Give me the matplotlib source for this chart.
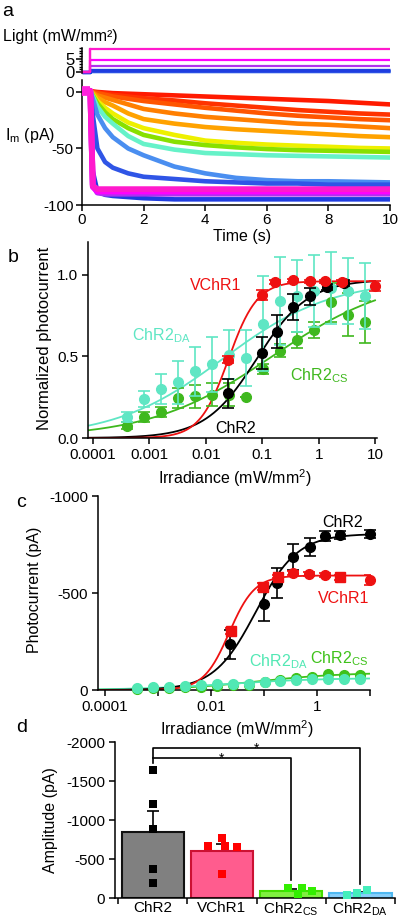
import numpy as np
import matplotlib
matplotlib.use('Agg')
import matplotlib.pyplot as plt
from matplotlib.ticker import FixedLocator, NullFormatter, FixedFormatter

plt.rcParams['font.family'] = ['Liberation Sans', 'DejaVu Sans']
plt.rcParams['mathtext.fontset'] = 'custom'
plt.rcParams['mathtext.rm'] = 'Liberation Sans'
plt.rcParams['mathtext.it'] = 'Liberation Sans:italic'
plt.rcParams['mathtext.default'] = 'regular'
plt.rcParams['axes.unicode_minus'] = False
plt.rcParams['axes.linewidth'] = 1.1
plt.rcParams['xtick.major.width'] = 1.1
plt.rcParams['ytick.major.width'] = 1.1
plt.rcParams['xtick.labelsize'] = 11
plt.rcParams['ytick.labelsize'] = 11

# ---------------- data: panel a ----------------
t_pts = [0, 0.27, 0.35, 0.5, 0.75, 1, 1.5, 2, 3, 4, 5, 6, 7, 8, 9, 10]
trace_colors = ['#ff1a00', '#ff3300', '#ff5500', '#ff7f00', '#ffa200', '#eef000',
                '#88e000', '#66f2c8', '#4a8ef0', '#2f55e6', '#1f3de0', '#b030f0',
                '#ff00ff', '#ff1acc']
traces = [
    [1, 1, 0.5, 0, -0.5, -1, -1.5, -2, -3, -4, -5, -6, -7, -8, -9.5, -11],
    [1, 1, 0, -0.5, -1.5, -2.5, -4, -5.5, -7.5, -10, -12, -14, -16, -17.5, -19, -20],
    [1, 1, 0, -1, -2.5, -4, -6, -8, -11, -14, -16.5, -19, -21, -22.5, -24, -25],
    [1, 1, -0.5, -3, -5, -7, -11, -15, -19, -22, -24, -26, -28, -29, -30.5, -32],
    [1, 1, -1, -5, -9, -12, -19, -24, -28, -31, -33, -34.5, -36, -37.5, -39, -40],
    [1, 1, -2, -8, -14, -19, -27, -32, -38, -43, -45, -46.5, -47.5, -48.5, -49.5, -50],
    [1, 1, -3, -10, -18, -24, -32, -38, -44, -47, -49, -50.5, -51.5, -52, -52.5, -53],
    [1, 1, -4, -13, -22, -28, -39, -46, -51, -54, -55, -56, -56.5, -57, -57.5, -58],
    [1, 1, -6, -20, -32, -40, -50, -56, -66, -72, -76, -78, -79, -79, -79.5, -80],
    [1, 1, -20, -50, -62, -67, -72, -75, -77, -79, -80, -81, -81, -82, -82, -82],
    [1, 1, -70, -88, -91, -92, -93, -94, -95, -95, -95, -95, -95, -95, -95, -95],
    [1, 1, -82, -89, -90, -90, -90, -90, -90, -90, -90, -90, -90, -90, -90, -90],
    [1, 1, -84, -88, -88, -88, -88, -88, -88, -88, -88, -88, -88, -88, -88, -88],
    [1, 1, -83, -86, -86, -86, -86, -86, -86, -86, -86, -86, -86, -86, -86, -86],
]
light_levels = [0.003, 0.006, 0.012, 0.025, 0.05, 0.1, 0.15, 0.2, 0.35, 0.6, 0.9, 2.2, 4.4, 8.8]
light_onset = 0.27

# ---------------- data: panel b ----------------
irr = [0.0004, 0.0008, 0.0016, 0.0032, 0.0064, 0.0128, 0.0256, 0.0512,
       0.1024, 0.2048, 0.4096, 0.8192, 1.6384, 3.2768, 6.5536]
da_b = [0.13, 0.24, 0.30, 0.34, 0.41, 0.45, 0.51, 0.49, 0.70, 0.84, 0.87, 0.90, 0.92, 0.90, 0.87]
da_b_err = [0.03, 0.05, 0.09, 0.13, 0.15, 0.17, 0.15, 0.17, 0.29, 0.27, 0.22, 0.22, 0.22, 0.20, 0.20]
cs_b = [0.076, 0.13, 0.16, 0.245, 0.255, 0.265, 0.265, 0.25, 0.42, 0.535, 0.60, 0.66, 0.83, 0.755, 0.71]
cs_b_err = [0.02, 0.03, 0.03, 0.06, 0.07, 0.07, 0.07, 0.0, 0.03, 0.04, 0.05, 0.05, 0.12, 0.13, 0.13]
chr2_b_x = [0.025, 0.1, 0.18, 0.35, 0.7, 1.4, 2.8]
chr2_b = [0.274, 0.52, 0.652, 0.80, 0.867, 0.925, 0.95]
chr2_b_err = [0.09, 0.10, 0.10, 0.08, 0.05, 0.02, 0.02]
vchr1_b_x = [0.025, 0.1, 0.17, 0.35, 0.7, 1.3, 2.6, 10]
vchr1_b = [0.48, 0.877, 0.955, 0.965, 0.96, 0.96, 0.955, 0.93]
vchr1_b_err = [0.02, 0.03, 0.015, 0.01, 0.01, 0.01, 0.015, 0.03]
# Hill fit parameters (top, EC50, slope)
fit_b = {'ChR2': (0.97, 0.08, 0.95), 'VChR1': (0.96, 0.025, 1.7),
         'DA': (0.97, 0.02, 0.45), 'CS': (1.0, 0.15, 0.4)}

# ---------------- data: panel c ----------------
chr2_c_x = [0.023, 0.098, 0.175, 0.35, 0.74, 1.41, 2.7, 10]
chr2_c = [-236, -441, -550, -684, -738, -795, -800, -805]
chr2_c_err = [74, 87, 77, 68, 47, 25, 20, 20]
vchr1_c_x = [0.0234, 0.094, 0.18, 0.35, 0.72, 1.41, 2.7, 10]
vchr1_c = [-304, -533, -585, -603, -598, -593, -581, -568]
vchr1_c_err = [15, 20, 10, 8, 8, 8, 12, 25]
vchr1_c_marker = ['s', 's', 's', 'o', 'o', 'o', 's', 'o']
da_c = [-9, -14, -17, -22, -26, -31, -31, -31, -41, -48, -51, -55, -55, -55, -55]
cs_c = [-5, -8, -10, -14, -18, -22, -25, -28, -40, -50, -60, -68, -85, -77, -77]
fit_c = {'ChR2': (-805, 0.07, 1.1), 'VChR1': (-590, 0.022, 1.8),
         'DA': (-62, 0.02, 0.5), 'CS': (-90, 0.08, 0.55)}

# ---------------- data: panel d ----------------
groups = ['ChR2', 'VChR1', 'ChR2$_{CS}$', 'ChR2$_{DA}$']
means_d = [-840, -605, -93, -58]
sem_d = [270, 90, 20, 20]
pts_d = [[-1640, -1200, -880, -368, -188],
         [-769, -664, -670, -660, -306],
         [-124, -122, -93, -55],
         [-102, -68, -38]]
jitter_d = [[0, 0, 0, 0, 0],
            [0, -0.2, 0.05, 0.22, 0],
            [-0.05, 0.15, 0.3, 0.1],
            [0.1, -0.05, -0.2]]
sig_top = -1925
sig_low = -1795

W, H = 400, 922
fig = plt.figure(figsize=(W / 100, H / 100), dpi=100)


def add_ax(l, t, r, b):
    return fig.add_axes([l / W, 1 - b / H, (r - l) / W, (b - t) / H])


def ftext(x, y, s, **kw):
    return fig.text(x / W, 1 - y / H, s, **kw)


def hill(x, top, k, n):
    x = np.asarray(x, float)
    return top * x ** n / (x ** n + k ** n)


RED = '#ee1111'
CYAN = '#5fe6c4'
GREEN = '#3fb81e'
CYAN_C = '#52e8b4'
GREEN_C = '#3ec21a'

# ================= panel a: light =================
axl = add_ax(82, 48, 390, 73.5)
for i in range(len(light_levels)):
    lv = light_levels[i]
    lw = 1.4 if i < 8 else (2.4 if i < 11 else 1.6)
    axl.plot([0, light_onset, light_onset, 10], [0, 0, lv, lv],
             color=trace_colors[i], lw=lw, solid_capstyle='butt', clip_on=False)
axl.plot([0, light_onset, light_onset], [0, 0, light_levels[-1]],
         color=trace_colors[-1], lw=1.6, clip_on=False)
axl.set_xlim(0, 10)
axl.set_ylim(-0.5, 9)
for s in ['top', 'right', 'bottom']:
    axl.spines[s].set_visible(False)
axl.set_xticks([])
axl.yaxis.set_major_locator(FixedLocator([0, 5]))
axl.yaxis.set_minor_locator(FixedLocator([1, 2, 3, 4, 6, 7, 8, 9]))
axl.tick_params(axis='y', which='major', length=4.5, pad=1, labelsize=12)
axl.tick_params(axis='y', which='minor', length=2.5, width=1.0)
axl.patch.set_alpha(0)

# ================= panel a: currents =================
axa = add_ax(82, 80, 390, 205)
for i in range(len(traces)):
    lw = 3.3 if i < 11 else 4.2
    axa.plot(t_pts, traces[i], color=trace_colors[i], lw=lw,
             solid_joinstyle='round', zorder=2 + i)
axa.plot(t_pts[:2], traces[-1][:2], color='#ff22dd', lw=7, zorder=30,
         solid_capstyle='butt')
axa.set_xlim(0, 10)
axa.set_ylim(-100, 10.6)
for s in ['top', 'right']:
    axa.spines[s].set_visible(False)
axa.set_xticks([0, 2, 4, 6, 8, 10])
axa.set_yticks([0, -50, -100])
axa.tick_params(length=4, pad=2)
axa.patch.set_alpha(0)

ftext(3, 36, 'Light (mW/mm²)', ha='left', va='center', fontsize=11.5)
ftext(5, 135, 'I$_{m}$ (pA)', ha='left', va='center', fontsize=11.5)
ftext(242, 237, 'Time (s)', ha='center', va='center', fontsize=11.5)

# ================= panel b =================
axb = add_ax(88, 242, 377, 438)
axb.set_xscale('log')
xx = np.logspace(-4.09, 1, 400)
axb.plot(xx, hill(xx, *fit_b['CS']), color=GREEN, lw=1.3, zorder=2)
axb.plot(xx, hill(xx, *fit_b['DA']), color=CYAN, lw=1.3, zorder=2)
axb.plot(xx, hill(xx, *fit_b['ChR2']), color='k', lw=1.3, zorder=2)
axb.plot(xx, hill(xx, *fit_b['VChR1']), color=RED, lw=1.3, zorder=2)
ekw = dict(fmt='o', ms=7, capsize=4.5, elinewidth=1.2, capthick=1.2, clip_on=False)
axb.errorbar(irr, cs_b, yerr=cs_b_err, color=GREEN, zorder=3, **ekw)
axb.errorbar(irr, da_b, yerr=da_b_err, color=CYAN, zorder=4, **ekw)
axb.errorbar(chr2_b_x, chr2_b, yerr=chr2_b_err, color='k', zorder=5, **ekw)
axb.errorbar(vchr1_b_x, vchr1_b, yerr=vchr1_b_err, color=RED, zorder=6, **ekw)
axb.set_xlim(10 ** -4.09, 10 ** 1.035)
axb.set_ylim(0, 1.2)
for s in ['top', 'right']:
    axb.spines[s].set_visible(False)
axb.xaxis.set_major_locator(FixedLocator([1e-4, 1e-3, 1e-2, 1e-1, 1, 10]))
axb.xaxis.set_major_formatter(FixedFormatter(['0.0001', '0.001', '0.01', '0.1', '1', '10']))
axb.xaxis.set_minor_locator(FixedLocator([]))
axb.set_yticks([0, 0.5, 1.0])
axb.set_yticklabels(['0.0', '0.5', '1.0'])
axb.tick_params(length=4, pad=3)
axb.patch.set_alpha(0)

ftext(45, 338, 'Normalized photocurrent', rotation=90, ha='center', va='center', fontsize=12)
ftext(235, 478, 'Irradiance (mW/mm$^{2}$)', ha='center', va='center', fontsize=11.5)
ftext(190, 290, 'VChR1', color=RED, ha='left', va='baseline', fontsize=11.5)
ftext(132, 340, 'ChR2$_{DA}$', color=CYAN, ha='left', va='baseline', fontsize=11.5)
ftext(290, 380, 'ChR2$_{CS}$', color=GREEN, ha='left', va='baseline', fontsize=11.5)
ftext(215, 433, 'ChR2', color='k', ha='left', va='baseline', fontsize=11.5)

# ================= panel c =================
axc = add_ax(98, 496, 370, 690)
axc.set_xscale('log')
xc = np.logspace(-4.132, 1, 400)
axc.plot(xc, hill(xc, *fit_c['CS']), color=GREEN_C, lw=1.3, zorder=2)
axc.plot(xc, hill(xc, *fit_c['DA']), color=CYAN_C, lw=1.3, zorder=2)
axc.plot(xc, hill(xc, *fit_c['ChR2']), color='k', lw=1.3, zorder=2)
axc.plot(xc, hill(xc, *fit_c['VChR1']), color=RED, lw=1.3, zorder=2)
axc.plot(irr, cs_c, 'o', color=GREEN_C, ms=7, zorder=3, clip_on=False)
axc.plot(irr, da_c, 'o', color=CYAN_C, ms=7, zorder=4, clip_on=False)
axc.errorbar(chr2_c_x, chr2_c, yerr=chr2_c_err, color='k', zorder=5, **ekw)
axc.errorbar(vchr1_c_x, vchr1_c, yerr=vchr1_c_err, color=RED, fmt='none',
             capsize=4.5, elinewidth=1.2, capthick=1.2, zorder=6)
for i in range(len(vchr1_c_x)):
    axc.plot([vchr1_c_x[i]], [vchr1_c[i]], marker=vchr1_c_marker[i], color=RED,
             ms=7, zorder=7, clip_on=False)
axc.set_xlim(10 ** -4.132, 10)
axc.set_ylim(0, -1000)
for s in ['top', 'right']:
    axc.spines[s].set_visible(False)
axc.xaxis.set_major_locator(FixedLocator([1e-4, 1e-3, 1e-2, 1e-1, 1, 10]))
axc.xaxis.set_major_formatter(FixedFormatter(['0.0001', '', '0.01', '', '1', '']))
axc.xaxis.set_minor_locator(FixedLocator([]))
axc.set_yticks([0, -500, -1000])
axc.tick_params(length=4, pad=3)
axc.patch.set_alpha(0)

ftext(35, 590, 'Photocurrent (pA)', rotation=90, ha='center', va='center', fontsize=11.5)
ftext(237, 729, 'Irradiance (mW/mm$^{2}$)', ha='center', va='center', fontsize=11.5)
ftext(322, 527, 'ChR2', color='k', ha='left', va='baseline', fontsize=11.5)
ftext(318, 603, 'VChR1', color=RED, ha='left', va='baseline', fontsize=11.5)
ftext(249, 666, 'ChR2$_{DA}$', color=CYAN_C, ha='left', va='baseline', fontsize=11.5)
ftext(310, 663, 'ChR2$_{CS}$', color=GREEN_C, ha='left', va='baseline', fontsize=11.5)

# ================= panel d =================
axd = add_ax(115, 742, 395, 898)
bar_fc = ['#808080', '#ff5c8e', '#80f040', '#87cefa']
bar_ec = ['#111111', '#cc1133', '#44dd00', '#4fb8f0']
pt_c = ['#000000', '#ff0000', '#33ee00', '#44eebb']
pos = np.arange(len(groups))
axd.errorbar(pos, means_d, yerr=[sem_d, [0] * len(sem_d)], fmt='none', ecolor='k',
             elinewidth=1.2, capsize=4.3, capthick=1.2, zorder=1)
axd.bar(pos, means_d, width=0.9, color=bar_fc, edgecolor=bar_ec, linewidth=1.5, zorder=2)
for i in range(len(groups)):
    axd.scatter(pos[i] + np.array(jitter_d[i]), pts_d[i], marker='s', s=36,
                color=pt_c[i], zorder=3, linewidths=0, clip_on=False)
axd.plot([0, 0, 3, 3], [-1730, sig_top, sig_top, -175], color='k', lw=1.2, zorder=4)
axd.plot([0, 2, 2], [sig_low, sig_low, -235], color='k', lw=1.2, zorder=4)
axd.text(1.5, sig_top + 60, '*', ha='center', va='baseline', fontsize=10)
axd.text(1.0, sig_low + 60, '*', ha='center', va='baseline', fontsize=10)
axd.set_xlim(-0.545, 3.5)
axd.set_ylim(0, -2000)
for s in ['top', 'right']:
    axd.spines[s].set_visible(False)
axd.xaxis.set_major_locator(FixedLocator([-0.5, 0.5, 1.5, 2.5, 3.5]))
axd.xaxis.set_major_formatter(NullFormatter())
axd.xaxis.set_minor_locator(FixedLocator(list(pos)))
axd.xaxis.set_minor_formatter(FixedFormatter(groups))
axd.tick_params(axis='x', which='minor', length=0, pad=2, labelsize=11)
axd.tick_params(axis='x', which='major', length=4)
axd.set_yticks([0, -500, -1000, -1500, -2000])
axd.tick_params(axis='y', length=4, pad=3)
axd.patch.set_alpha(0)

ftext(50, 820, 'Amplitude (pA)', rotation=90, ha='center', va='center', fontsize=11.5)

# panel letters
ftext(8, 11, 'a', ha='center', va='center', fontsize=14)
ftext(13, 258, 'b', ha='center', va='center', fontsize=14)
ftext(21, 502, 'c', ha='center', va='center', fontsize=14)
ftext(22, 727, 'd', ha='center', va='center', fontsize=14)

fig.savefig('out.png', dpi=100)
